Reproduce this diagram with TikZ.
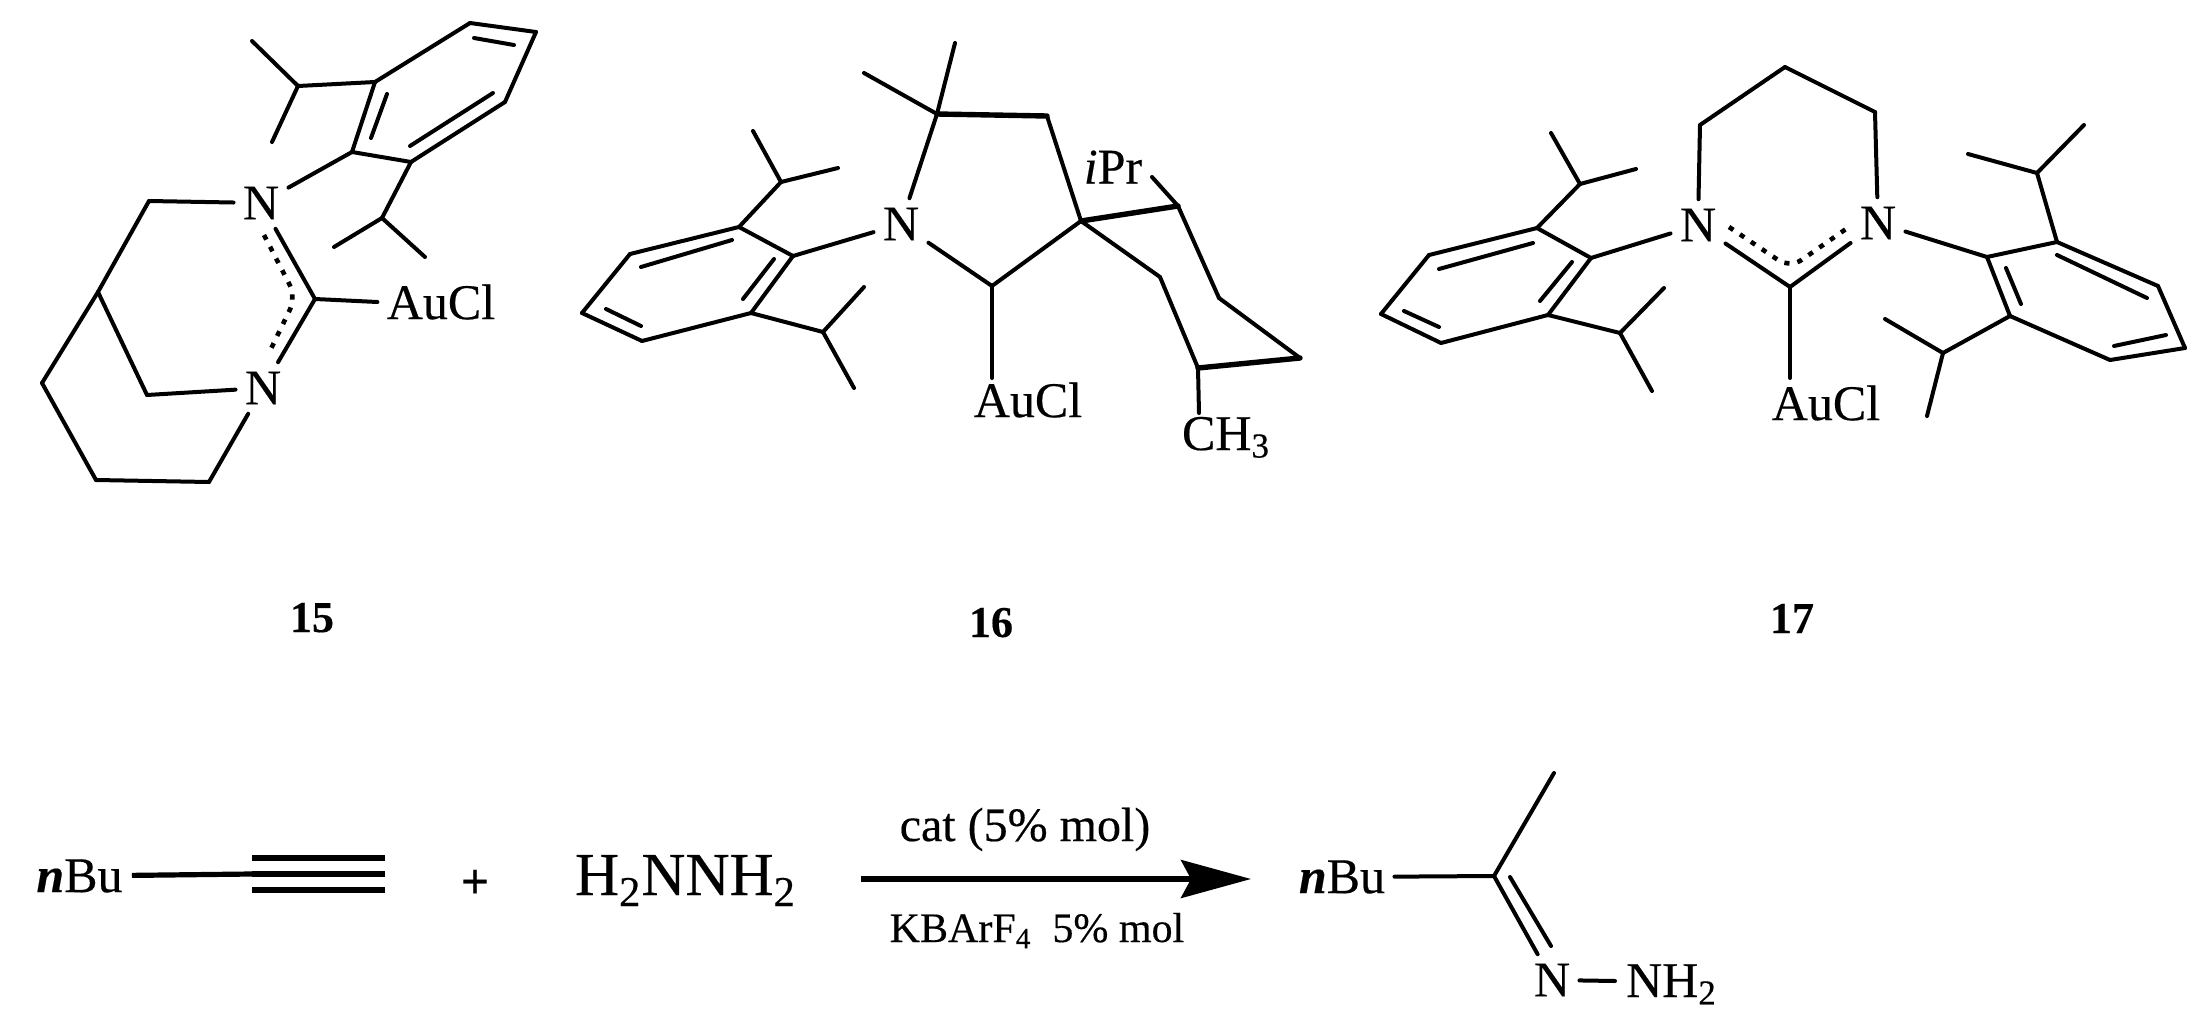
\documentclass[tikz,border=0pt]{standalone}
\usepackage{fontspec}
\setmainfont[FakeBold=0.35,BoldFont={Liberation Serif Bold},BoldFeatures={FakeBold=0.35},ItalicFont={Liberation Serif Italic},BoldItalicFont={Liberation Serif Bold Italic}]{Liberation Serif}
\usetikzlibrary{arrows.meta}
\tikzset{
  bond/.style={line width=2pt,line cap=round},
  heavybond/.style={line width=2.7pt,line cap=round},
  boldbond/.style={line width=2.6pt},
  deloc/.style={line width=2.3pt,dash pattern=on 2.6pt off 4pt,rounded corners=7pt},
  atom/.style={inner sep=4.5pt,font=\fontsize{25}{30}\selectfont},
  chem/.style={anchor=base,inner sep=0pt,font=\fontsize{25}{30}\selectfont},
  tag/.style={anchor=base,inner sep=0pt,font=\bfseries\fontsize{22}{26}\selectfont},
  rxn/.style={line width=2.6pt,-{Stealth[length=35pt,width=19pt,inset=5pt]}}
}
\begin{document}
\begin{tikzpicture}[x=0.5pt,y=-0.5pt]
          \path[use as bounding box,fill=white] (0,0) rectangle (2208,1033);
          \node(Na1)[atom] at (261,203){N};
          \node(Na2)[atom] at (263,388){N};
          \node(AuA)[atom] at (441,302){AuCl};
          \coordinate(Ca) at (315,299);
          \coordinate(a1) at (352,152); \coordinate(a2) at (375,82);
          \coordinate(a3) at (470,23); \coordinate(a4) at (536,32);
          \coordinate(a5) at (505,102); \coordinate(a6) at (411,162);
          \coordinate(a7) at (298,86); \coordinate(a8) at (252,41);
          \coordinate(a9) at (272,142); \coordinate(a10) at (382,218);
          \coordinate(a11) at (334,247); \coordinate(a12) at (425,257);
          \coordinate(a13) at (149,201); \coordinate(a14) at (98,292);
          \coordinate(a15) at (42,383); \coordinate(a16) at (96,480);
          \coordinate(a17) at (209,482); \coordinate(a18) at (147,395);
          \coordinate(a19) at (387,94); \coordinate(a20) at (371,138);
          \coordinate(a21) at (493,93); \coordinate(a22) at (410,146);
          \coordinate(a23) at (474,38); \coordinate(a24) at (514,45);
          \coordinate(a25) at (264,235); \coordinate(a26) at (296,297);
          \coordinate(a27) at (268,355);
          \path[bond] (a1) edge (a2) (a2) edge (a3) (a3) edge (a4) (a4) edge (a5)
            (a5) edge (a6) (a6) edge (a1) (a2) edge (a7) (a7) edge (a8) (a7) edge (a9)
            (a6) edge (a10) (a10) edge (a11) (a10) edge (a12) (a19) edge (a20)
            (a21) edge (a22) (a23) edge (a24);
          \path[bond] (Na1) edge (a1) (Na1) edge (a13) (a13) edge (a14) (a14) edge (a15)
            (a15) edge (a16) (a16) edge (a17) (a17) edge (Na2) (a14) edge (a18)
            (a18) edge (Na2) (Na1) edge (Ca) (Ca) edge (Na2) (Ca) edge (AuA.west);
          \draw[deloc] (a25) -- (a26) -- (a27);
          \node(TagA)[tag] at (312,632){15};

          \node(Nb)[atom] at (901,224){N};
          \node(AuB)[atom] at (1028,400){AuCl};
          \node(iPr)[atom] at (1113,167){\textit{i}Pr};
          \node(Me)[chem] at (1226,450){CH\textsubscript{3}};
          \coordinate(b1) at (739,227); \coordinate(b2) at (630,254);
          \coordinate(b3) at (582,313); \coordinate(b4) at (642,341);
          \coordinate(b5) at (751,313); \coordinate(b6) at (793,256);
          \coordinate(b7) at (732,240); \coordinate(b8) at (641,267);
          \coordinate(b9) at (774,259); \coordinate(b10) at (743,299);
          \coordinate(b11) at (606,309); \coordinate(b12) at (641,326);
          \coordinate(b13) at (781,182); \coordinate(b14) at (753,131);
          \coordinate(b15) at (838,168); \coordinate(b16) at (823,332);
          \coordinate(b17) at (864,287); \coordinate(b18) at (854,388);
          \coordinate(b19) at (937,114); \coordinate(b20) at (864,73);
          \coordinate(b21) at (955,43); \coordinate(b22) at (1047,116);
          \coordinate(b23) at (1081,221); \coordinate(Cb) at (992,286);
          \coordinate(b24) at (992,378); \coordinate(b25) at (1152,177);
          \coordinate(b26) at (1178,206); \coordinate(b27) at (1219,298);
          \coordinate(b28) at (1300,358); \coordinate(b29) at (1198,368);
          \coordinate(b30) at (1160,277); \coordinate(b31) at (1199,413);
          \path[bond] (b1) edge (b2) (b2) edge (b3) (b3) edge (b4) (b4) edge (b5)
            (b5) edge (b6) (b6) edge (b1) (b7) edge (b8) (b9) edge (b10) (b11) edge (b12)
            (b1) edge (b13) (b13) edge (b14) (b13) edge (b15) (b5) edge (b16)
            (b16) edge (b17) (b16) edge (b18);
          \path[bond] (b6) edge (Nb) (Nb) edge (b19) (b19) edge (b20) (b19) edge (b21)
            (b22) edge (b23) (b23) edge (Cb) (Cb) edge (Nb) (Cb) edge (b24)
            (b25) edge (b26) (b26) edge (b27) (b27) edge (b28) (b29) edge (b30)
            (b30) edge (b23) (b29) edge (b31);
          \path[heavybond] (b19) edge (b22) (b23) edge (b26) (b28) edge (b29);
          \node(TagB)[tag] at (991,637){16};

          \node(Nc1)[atom] at (1698,225){N};
          \node(Nc2)[atom] at (1878,223){N};
          \node(AuC)[atom] at (1826,403){AuCl};
          \coordinate(c1) at (1537,228); \coordinate(c2) at (1429,255);
          \coordinate(c3) at (1381,314); \coordinate(c4) at (1441,343);
          \coordinate(c5) at (1548,315); \coordinate(c6) at (1591,258);
          \coordinate(c7) at (1533,243); \coordinate(c8) at (1439,269);
          \coordinate(c9) at (1572,262); \coordinate(c10) at (1540,301);
          \coordinate(c11) at (1404,311); \coordinate(c12) at (1439,327);
          \coordinate(c13) at (1580,184); \coordinate(c14) at (1551,133);
          \coordinate(c15) at (1636,169); \coordinate(c16) at (1620,333);
          \coordinate(c17) at (1664,288); \coordinate(c18) at (1652,391);
          \coordinate(c19) at (1700,125); \coordinate(c20) at (1785,67);
          \coordinate(c21) at (1875,112); \coordinate(Cc) at (1790,287);
          \coordinate(c22) at (1790,378); \coordinate(c23) at (1729,227);
          \coordinate(c24) at (1790,268); \coordinate(c25) at (1846,229);
          \coordinate(c26) at (2057,242); \coordinate(c27) at (2158,286);
          \coordinate(c28) at (2185,348); \coordinate(c29) at (2110,360);
          \coordinate(c30) at (2010,316); \coordinate(c31) at (1987,257);
          \coordinate(c32) at (2057,255); \coordinate(c33) at (2147,298);
          \coordinate(c34) at (2006,268); \coordinate(c35) at (2021,304);
          \coordinate(c36) at (2166,335); \coordinate(c37) at (2114,346);
          \coordinate(c38) at (2037,173); \coordinate(c39) at (2084,125);
          \coordinate(c40) at (1968,154); \coordinate(c41) at (1943,353);
          \coordinate(c42) at (1885,319); \coordinate(c43) at (1927,416);
          \path[bond] (c1) edge (c2) (c2) edge (c3) (c3) edge (c4) (c4) edge (c5)
            (c5) edge (c6) (c6) edge (c1) (c7) edge (c8) (c9) edge (c10) (c11) edge (c12)
            (c1) edge (c13) (c13) edge (c14) (c13) edge (c15) (c5) edge (c16)
            (c16) edge (c17) (c16) edge (c18);
          \path[bond] (c6) edge (Nc1) (Nc1) edge (c19) (c19) edge (c20) (c20) edge (c21)
            (c21) edge (Nc2) (Nc1) edge (Cc) (Cc) edge (Nc2) (Cc) edge (c22) (Nc2) edge (c31);
          \path[bond] (c26) edge (c27) (c27) edge (c28) (c28) edge (c29) (c29) edge (c30)
            (c30) edge (c31) (c31) edge (c26) (c32) edge (c33) (c34) edge (c35) (c36) edge (c37)
            (c26) edge (c38) (c38) edge (c39) (c38) edge (c40) (c30) edge (c41)
            (c41) edge (c42) (c41) edge (c43);
          \draw[deloc] (c23) -- (c24) -- (c25);
          \node(TagC)[tag] at (1792,633){17};

          \node(BuA)[atom] at (79.5,876){\textbf{\textit{n}}Bu};
          \coordinate(r1) at (252,874); \coordinate(r2) at (385,874);
          \coordinate(r3) at (252,858); \coordinate(r4) at (385,858);
          \coordinate(r5) at (252,890); \coordinate(r6) at (385,890);
          \path[boldbond] (BuA) edge (r1) (r1) edge (r2) (r3) edge (r4) (r5) edge (r6);
          \node(Plus)[inner sep=0pt,font=\bfseries\fontsize{25}{30}\selectfont] at (475,884){+};
          \node(Hyd)[chem,font=\fontsize{30.5}{36}\selectfont] at (685.5,895){H\textsubscript{2}NNH\textsubscript{2}};
          \coordinate(r7) at (861,879); \coordinate(r8) at (1251,879);
          \path[rxn] (r7) edge (r8);
          \node(Cat)[chem,font=\fontsize{24}{28}\selectfont] at (1025,841){cat (5\% mol)};
          \node(Salt)[chem,font=\fontsize{21}{25}\selectfont] at (1037,942){KBArF\textsubscript{4}\ \ 5\% mol};
          \node(BuB)[atom] at (1342,877){\textbf{\textit{n}}Bu};
          \node(Nd)[atom] at (1552,980){N};
          \node(NH)[chem] at (1671.5,997){NH\textsubscript{2}};
          \coordinate(Cd) at (1494,876); \coordinate(d1) at (1554,773);
          \coordinate(d2) at (1510,877); \coordinate(d3) at (1551,946);
          \coordinate(d4) at (1615,981);
          \path[bond] (BuB) edge (Cd) (Cd) edge (d1) (Cd) edge (Nd) (d2) edge (d3) (Nd) edge (d4);
\end{tikzpicture}
\end{document}
